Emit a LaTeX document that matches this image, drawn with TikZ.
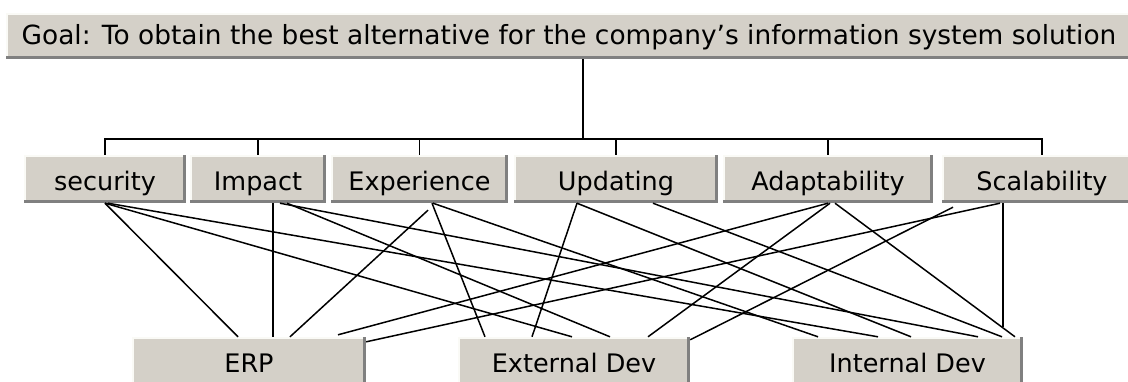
\documentclass[tikz,border=0pt]{standalone}
\usepackage{fontspec}
\setmainfont{DejaVu Sans}
\usetikzlibrary{calc}
\definecolor{btnface}{HTML}{D4D0C8}
\definecolor{btnshadow}{HTML}{808080}
\definecolor{btnlight}{HTML}{FAFAF6}
\tikzset{
  winbox/.style={rectangle, draw=none, fill=btnface, inner sep=0pt,
    font=\fontsize{25.5pt}{28pt}\selectfont, text height=22pt, text depth=0pt,
    minimum height=48pt,
    path picture={
      \fill[btnlight] (path picture bounding box.north west) rectangle ([yshift=-2pt]path picture bounding box.north east);
      \fill[btnlight] (path picture bounding box.north west) rectangle ([xshift=2pt]path picture bounding box.south west);
      \fill[btnshadow] ([yshift=3pt]path picture bounding box.south west) rectangle (path picture bounding box.south east);
      \fill[btnshadow] ([xshift=-3pt]path picture bounding box.north east) rectangle (path picture bounding box.south east);
    }},
  goalbox/.style={winbox, font=\fontsize{26.4pt}{29pt}\selectfont, text height=17pt, minimum height=46pt},
  tree/.style={draw=black, line width=1.6pt},
  link/.style={draw=black, line width=1.5pt}
}
\begin{document}
\begin{tikzpicture}[x=1pt, y=-1pt]
\useasboundingbox (0,0) rectangle (1128,381);
\clip (0,0) rectangle (1128,381);
\fill[white] (0,0) rectangle (1128,381);

% goal
\node[goalbox, minimum width=1126pt] (goal) at (569,36) {Goal: To obtain the best alternative for the company’s information system solution};

% criteria
\node[winbox, minimum width=162pt] (security) at (105,179) {security};
\node[winbox, minimum width=136pt] (impact) at (258,179) {Impact};
\node[winbox, minimum width=177pt] (experience) at (419.5,179) {Experience};
\node[winbox, minimum width=204pt] (updating) at (616,179) {Updating};
\node[winbox, minimum width=210pt] (adapt) at (828,179) {Adaptability};
\node[winbox, minimum width=200pt] (scal) at (1042,179) {Scalability};

% alternatives
\node[winbox, minimum width=234pt] (erp) at (249,361) {ERP};
\node[winbox, minimum width=232pt] (ext) at (574,361) {External Dev};
\node[winbox, minimum width=231pt] (int) at (907.5,361) {Internal Dev};

% hierarchy tree
\coordinate (bus) at ([xshift=14pt,yshift=-80pt]goal.south);
\draw[tree] ([xshift=14pt]goal.south) -- (bus);
\draw[tree] (security.north) |- (bus) -| (scal.north);
\draw[tree] (impact.north) -- (impact.north |- bus);
\draw[tree] (experience.north) -- (experience.north |- bus);
\draw[tree] (updating.north) -- (updating.north |- bus);
\draw[tree] (adapt.north) -- (adapt.north |- bus);

% links to ERP
\draw[link] (security.south) -- ([xshift=-11pt]erp.north);
\draw[link] ([xshift=15pt]impact.south) -- ([xshift=24pt]erp.north);
\draw[link] ([xshift=8.5pt,yshift=-7pt]experience.south) -- ([xshift=41pt]erp.north);
\draw[link] (adapt.south) -- ([xshift=89pt,yshift=2pt]erp.north);
\draw[link] ([xshift=-42pt]scal.south) -- ([yshift=-5pt]erp.north east);

% links to External Dev
\draw[link] ([xshift=12.5pt]experience.south) -- ([xshift=-89pt]ext.north);
\draw[link] ([xshift=-39pt]updating.south) -- ([xshift=-42pt]ext.north);
\draw[link] (security.south) -- ([xshift=-2pt]ext.north);
\draw[link] ([xshift=29pt]impact.south) -- ([xshift=36pt]ext.north);
\draw[link] ([xshift=2pt]adapt.south) -- ([xshift=74pt]ext.north);
\draw[link] ([xshift=-89pt,yshift=-4pt]scal.south) -- ([yshift=-3pt]ext.north east);

% links to Internal Dev
\draw[link] ([xshift=3pt]security.south) -- ([xshift=-29.5pt]int.north);
\draw[link] ([xshift=22pt]impact.south) -- ([xshift=70.5pt]int.north);
\draw[link] ([xshift=13.5pt]experience.south) -- ([xshift=-89.5pt]int.north);
\draw[link] ([xshift=-39pt]updating.south) -- ([xshift=3.5pt]int.north);
\draw[link] ([xshift=37pt]updating.south) -- ([xshift=94.5pt]int.north);
\draw[link] ([xshift=7pt]adapt.south) -- ([xshift=107.5pt]int.north);
\draw[link] ([xshift=-39pt]scal.south) -- ([xshift=95.5pt,yshift=10pt]int.north);
\end{tikzpicture}
\end{document}
